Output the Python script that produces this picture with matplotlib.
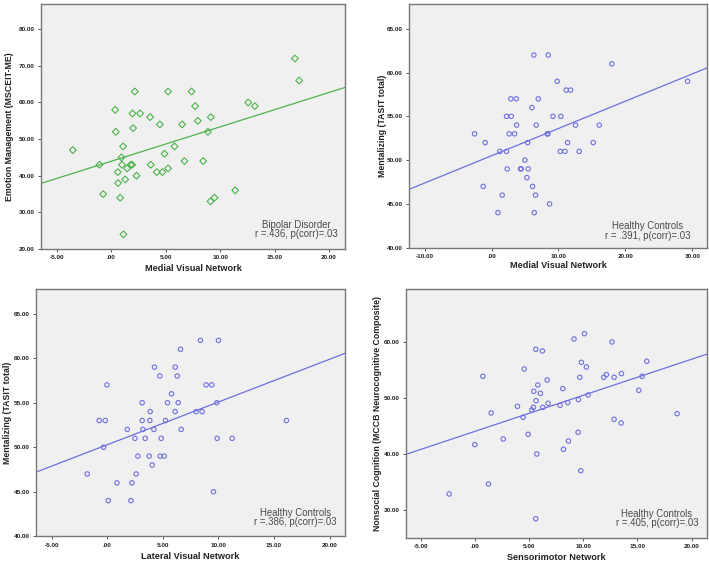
import matplotlib
matplotlib.use("Agg")
import matplotlib.pyplot as plt
import numpy as np

plt.rcParams["font.family"] = ["Liberation Sans", "DejaVu Sans"]

# Panel A: bipolar disorder, medial visual network vs emotion management
bd_medial_x = [-3.52, -1.07, -0.73, 0.37, 0.43, 0.61, 0.64, 0.83, 0.95, 1.00, 1.10, 1.13,
               1.29, 1.47, 1.80, 1.93, 1.96, 2.02, 2.17, 2.33, 2.66, 3.58, 3.64, 4.19,
               4.47, 4.71, 4.90, 5.23, 5.23, 5.82, 6.52, 6.73, 7.38, 7.71, 7.96, 8.45,
               8.88, 9.15, 9.12, 9.49, 11.39, 12.58, 13.19, 16.87, 17.26]
bd_emotion_y = [47, 43, 35, 58, 52, 41, 38, 34, 45, 43, 48, 24,
                39, 42, 43, 43, 57, 53, 63, 40, 57, 56, 43, 41,
                54, 41, 46, 63, 42, 48, 54, 44, 63, 59, 55, 44,
                52, 56, 33, 34, 36, 60, 59, 72, 66]

# Panel B: healthy controls, medial visual network vs mentalizing
hc_medial_x = [-2.54, -0.95, -1.25, 1.25, 0.95, 1.59, 2.24, 2.24, 2.34, 2.64, 2.89, 2.94,
               3.44, 3.69, 3.74, 4.33, 4.43, 4.98, 5.28, 5.38, 5.48, 6.03, 6.13, 6.33,
               6.38, 6.58, 6.68, 6.97, 8.32, 8.42, 8.47, 8.67, 9.17, 9.81, 10.26, 10.36,
               10.96, 11.16, 11.36, 11.81, 12.55, 13.10, 15.19, 16.09, 17.98, 29.29]
hc_medial_y = [53, 52, 47, 51, 44, 46, 55, 51, 49, 53, 57, 55,
               53, 57, 54, 49, 49, 50, 48, 52, 49, 56, 47, 62,
               44, 46, 54, 57, 53, 53, 62, 45, 55, 59, 51, 55,
               51, 58, 52, 58, 54, 51, 52, 54, 61, 59]

# Panel C: healthy controls, lateral visual network vs mentalizing
hc_lateral_x = [-1.80, -0.72, -0.18, -0.33, -0.03, 0.09, 0.87, 1.80, 2.13, 2.22, 2.49, 2.60,
                2.75, 3.14, 3.14, 3.20, 3.41, 3.77, 3.83, 3.86, 4.04, 4.19, 4.25, 4.73,
                4.76, 4.85, 5.12, 5.24, 5.42, 5.78, 6.11, 6.11, 6.29, 6.38, 6.59, 6.65,
                7.99, 8.38, 8.53, 8.89, 9.40, 9.55, 9.85, 9.88, 10.00, 11.23, 16.11]
hc_lateral_y = [47, 53, 53, 50, 57, 44, 46, 52, 44, 46, 51, 47,
                49, 55, 53, 52, 51, 49, 53, 54, 48, 52, 59, 58,
                49, 51, 49, 53, 55, 56, 59, 54, 58, 55, 61, 52,
                54, 62, 54, 57, 57, 45, 55, 51, 62, 51, 53]

# Panel D: healthy controls, sensorimotor network vs nonsocial cognition
hc_sensori_x = [-2.40, -0.03, 0.71, 1.23, 1.48, 2.59, 3.91, 4.43, 4.53, 4.90, 5.23, 5.39,
                5.42, 5.60, 5.60, 5.63, 5.70, 5.79, 6.03, 6.22, 6.25, 6.65, 6.74, 7.85,
                8.10, 8.16, 8.56, 8.62, 9.14, 9.51, 9.54, 9.67, 9.76, 9.82, 10.10, 10.28,
                10.44, 11.88, 12.13, 12.65, 12.84, 12.84, 13.52, 13.49, 15.12, 15.42, 15.86, 18.66]
hc_sensori_y = [32.86, 41.67, 53.87, 34.64, 47.32, 42.68, 48.51, 46.55, 55.18, 43.51, 47.86, 48.33,
                51.19, 58.69, 28.45, 49.52, 40.00, 52.32, 50.83, 58.39, 48.33, 53.21, 49.05, 48.69,
                51.67, 40.83, 49.17, 42.32, 60.54, 43.87, 49.70, 53.69, 37.02, 56.37, 61.49, 55.54,
                50.54, 53.69, 54.17, 60.00, 53.69, 46.19, 54.35, 45.54, 51.37, 53.87, 56.55, 47.20]

# fit lines as printed (slope, intercept)
fit_a = (0.939, 43.95)
fit_b = (0.3115, 50.50)
fit_c = (0.4802, 50.28)
fit_d = (0.6437, 44.05)

GREEN = "#4cb34c"
BLUE = "#6f6fe0"
TXT = "#4a4a4a"


def fmt_tick(v):
    s = f"{v:.2f}"
    if s.startswith("0."):
        s = s[1:]
    return s


def panel(fig, rect, x, y, fit, color, marker, xlim, ylim, xticks, yticks,
          xlabel, ylabel, group, stat, ms, ylab_x, xlab_y, txt_pos):
    ax = fig.add_axes(rect)
    ax.set_facecolor("#f0f0f0")
    ax.scatter(x, y, s=ms, marker=marker, facecolors="none", edgecolors=color,
               linewidths=0.8, zorder=3)
    xs = np.array(xlim)
    ax.plot(xs, fit[0] * xs + fit[1], color=color, linewidth=0.9, zorder=2)
    ax.set_xlim(xlim)
    ax.set_ylim(ylim)
    ax.set_xticks(xticks)
    ax.set_yticks(yticks)
    ax.set_xticklabels([fmt_tick(v) for v in xticks], fontsize=4.6, fontweight="bold", color="#222222")
    ax.set_yticklabels([fmt_tick(v) for v in yticks], fontsize=4.6, fontweight="bold", color="#222222")
    ax.tick_params(length=2.5, width=0.7, color="#555555", pad=2)
    for sp in ax.spines.values():
        sp.set_color("#777777")
        sp.set_linewidth(1.0)
    ax.set_xlabel(xlabel, fontsize=6.6, fontweight="bold", color="#222222", va="center")
    ax.xaxis.set_label_coords(0.5, xlab_y)
    ax.set_ylabel(ylabel, fontsize=6.3, fontweight="bold", color="#222222", va="center")
    ax.yaxis.set_label_coords(ylab_x, 0.5)
    tx, ty1, ty2 = txt_pos
    ax.text(tx, ty1, group, transform=ax.transAxes, ha="center", va="center",
            fontsize=6.9, color=TXT)
    ax.text(tx, ty2, stat, transform=ax.transAxes, ha="center", va="center",
            fontsize=6.9, color=TXT)
    return ax


fig = plt.figure(figsize=(7.09, 5.69), dpi=100)

panel(fig, [0.0578, 0.5624, 0.4288, 0.430], bd_medial_x, bd_emotion_y, fit_a, GREEN, "D",
      (-6.44, 21.47), (20, 86.8), [-5, 0, 5, 10, 15, 20], [20, 30, 40, 50, 60, 70, 80],
      "Medial Visual Network", "Emotion Management (MSCEIT-ME)",
      "Bipolar Disorder", "r =.436, p(corr)=.03", 12,
      -0.104, -0.078, (0.839, 0.100, 0.060))

panel(fig, [0.5773, 0.5647, 0.4203, 0.4278], hc_medial_x, hc_medial_y, fit_b, BLUE, "o",
      (-12.29, 32.24), (40, 67.8), [-10, 0, 10, 20, 30], [40, 45, 50, 55, 60, 65],
      "Medial Visual Network", "Mentalizing (TASIT total)",
      "Healthy Controls", "r = .391, p(corr)=.03", 10,
      -0.089, -0.074, (0.80, 0.088, 0.050))

panel(fig, [0.0512, 0.0575, 0.4354, 0.4346], hc_lateral_x, hc_lateral_y, fit_c, BLUE, "o",
      (-6.38, 21.38), (40, 67.77), [-5, 0, 5, 10, 15, 20], [40, 45, 50, 55, 60, 65],
      "Lateral Visual Network", "Mentalizing (TASIT total)",
      "Healthy Controls", "r =.386, p(corr)=.03", 10,
      -0.094, -0.0825, (0.839, 0.096, 0.057))

panel(fig, [0.5726, 0.0545, 0.425, 0.4376], hc_sensori_x, hc_sensori_y, fit_d, BLUE, "o",
      (-6.39, 21.45), (25, 69.46), [-5, 0, 5, 10, 15, 20], [30, 40, 50, 60],
      "Sensorimotor Network", "Nonsocial Cognition (MCCB Neurocognitive Composite)",
      "Healthy Controls", "r =.405, p(corr)=.03", 10,
      -0.096, -0.080, (0.833, 0.098, 0.060))

fig.savefig("out.png", dpi=100)
